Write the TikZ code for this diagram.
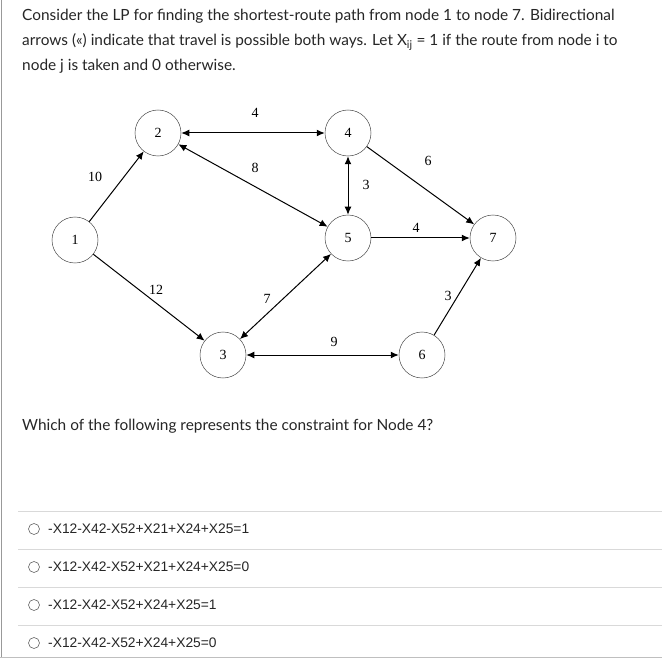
\documentclass[tikz,border=0pt]{standalone}
\usepackage{fontspec}
\usetikzlibrary{arrows.meta}
\setmainfont{Lato}
\newfontfamily\serifnum{Liberation Serif}
\newfontfamily\optfont{Liberation Sans}
\begin{document}
\begin{tikzpicture}[x=1pt,y=-1pt,
  nd/.style={circle,draw=black!70,line width=0.5pt,minimum size=46pt,inner sep=0pt,font=\serifnum\fontsize{14}{14}\selectfont},
  ed/.style={line width=1pt,-{Latex[length=8pt,width=7pt]}},
  bd/.style={line width=1pt,{Latex[length=8pt,width=7pt]}-{Latex[length=8pt,width=7pt]}},
  lb/.style={font=\serifnum\fontsize{14}{14}\selectfont},
  sep/.style={draw=black!15,line width=0.8pt},
  opt/.style={anchor=west,font=\optfont\fontsize{13.8}{14}\selectfont,text=black!85,inner sep=0pt},
  radio/.style={circle,draw=black!60,line width=0.6pt,minimum size=11pt,inner sep=0pt}]
\useasboundingbox (0,0) rectangle (662,658);
\fill[white] (0,0) rectangle (662,658);
\draw[black!40,line width=1pt] (1,0) -- (1,658);
\draw[black!25,line width=1pt] (0,657.5) -- (662,657.5);
\node[anchor=north west,align=left,inner sep=0pt,text=black!85,
  font=\fontsize{15.4}{25}\selectfont] (intro) at (22,9)
  {Consider the LP for finding the shortest-route path from node 1 to node 7. Bidirectional\\ arrows («) indicate that travel is possible both ways. Let X\textsubscript{ij} = 1 if the route from node i to\\ node j is taken and 0 otherwise.};
\node (n1) [nd] at (75,240) {1};
\node (n2) [nd] at (158,133) {2};
\node (n4) [nd] at (348,133) {4};
\node (n5) [nd] at (348,238) {5};
\node (n7) [nd] at (493,238) {7};
\node (n3) [nd] at (223,355) {3};
\node (n6) [nd] at (422,355) {6};
\draw[ed] (n1) -- (n2);
\draw[ed] (n1) -- (n3);
\draw[bd] (n2) -- (n4);
\draw[bd] (n2) -- (n5);
\draw[bd] (n4) -- (n5);
\draw[ed] (n4) -- (n7);
\draw[ed] (n5) -- (n7);
\draw[bd] (n3) -- (n5);
\draw[bd] (n3) -- (n6);
\draw[ed] (n6) -- (n7);
\node[lb] (l24) at (255,113) {4};
\node[lb] (l12) at (95,177) {10};
\node[lb] (l25) at (255,168) {8};
\node[lb] (l47) at (428,161) {6};
\node[lb] (l45) at (366,185) {3};
\node[lb] (l57) at (416,228) {4};
\node[lb] (l13) at (156,290) {12};
\node[lb] (l35) at (267,299) {7};
\node[lb] (l67) at (448,296) {3};
\node[lb] (l36) at (334,342) {9};
\node[anchor=west,inner sep=0pt,text=black!85,font=\fontsize{15.4}{15}\selectfont] (q) at (22,426)
  {Which of the following represents the constraint for Node 4?};
\foreach \y in {511,549,587,625} \draw[sep] (18,\y) -- (662,\y);
\node[radio] (r1) at (34,529) {};
\node[radio] (r2) at (34,567) {};
\node[radio] (r3) at (34,605) {};
\node[radio] (r4) at (34,643) {};
\node[opt] (o1) at (48,529) {-X12-X42-X52+X21+X24+X25=1};
\node[opt] (o2) at (48,567) {-X12-X42-X52+X21+X24+X25=0};
\node[opt] (o3) at (48,605) {-X12-X42-X52+X24+X25=1};
\node[opt] (o4) at (48,643) {-X12-X42-X52+X24+X25=0};
\end{tikzpicture}
\end{document}
